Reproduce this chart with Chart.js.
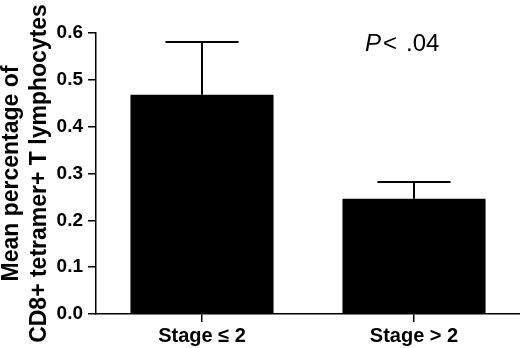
<!DOCTYPE html>
<html>
<head>
<meta charset="utf-8">
<script src="https://cdn.jsdelivr.net/npm/chart.js@4/dist/chart.umd.min.js"></script>
<style>
  html, body { margin: 0; padding: 0; background: #fff; }
  #wrap { width: 520px; height: 348px; }
</style>
</head>
<body>
<div id="wrap"><canvas id="myChart" width="520" height="348"></canvas></div>
<script>
const categories = ["Stage \u2264 2", "Stage > 2"];
const means = [0.468, 0.246];
const upperErrors = [0.581, 0.282];
const yTicks = [0.0, 0.1, 0.2, 0.3, 0.4, 0.5, 0.6];
const yTitle = ["Mean percentage of", "CD8+ tetramer+ T lymphocytes"];
const pText = ["P", "<", ".04"];

const font = "Arial, 'Liberation Sans', sans-serif";

const errorBars = {
  id: "errorBars",
  afterDatasetsDraw(chart) {
    const ctx = chart.ctx;
    const x = chart.scales.x;
    const y = chart.scales.y;
    ctx.save();
    ctx.strokeStyle = "#000";
    ctx.lineWidth = 2;
    upperErrors.forEach((v, i) => {
      const cx = x.getPixelForValue(i);
      const top = y.getPixelForValue(v);
      const base = y.getPixelForValue(means[i]);
      ctx.beginPath();
      ctx.moveTo(cx, base);
      ctx.lineTo(cx, top);
      ctx.moveTo(cx - 36.5, top);
      ctx.lineTo(cx + 36.5, top);
      ctx.stroke();
    });
    // p-value note: italic P, then "< .04"
    ctx.fillStyle = "#000";
    ctx.textBaseline = "middle";
    const px = x.getPixelForValue(1) - 49;
    const py = y.getPixelForValue(0.6) + 11;
    ctx.font = "italic 24px " + font;
    ctx.fillText(pText[0], px, py);
    const pw = ctx.measureText(pText[0]).width;
    ctx.font = "24px " + font;
    ctx.fillText(pText[1], px + pw + 2, py);
    ctx.fillText(pText[2], px + pw + 25, py);
    ctx.restore();
  }
};

const ctx = document.getElementById("myChart").getContext("2d");
new Chart(ctx, {
  type: "bar",
  data: {
    labels: categories,
    datasets: [{
      data: means,
      backgroundColor: "#000",
      borderWidth: 0,
      categoryPercentage: 1,
      barPercentage: 0.675
    }]
  },
  options: {
    responsive: false,
    animation: false,
    layout: { padding: { top: 33, right: 0, left: 0, bottom: 0 } },
    plugins: {
      legend: { display: false },
      tooltip: { enabled: false }
    },
    scales: {
      x: {
        grid: {
          offset: false,
          drawOnChartArea: false,
          color: "#000",
          tickLength: 8,
          lineWidth: 1.5
        },
        border: { color: "#000", width: 1.5 },
        ticks: {
          color: "#000",
          font: { family: font, size: 20, weight: "bold" },
          padding: 2
        },
        afterFit(scale) { scale.height = 34; }
      },
      y: {
        min: 0,
        max: 0.6,
        afterBuildTicks(scale) {
          scale.ticks = yTicks.map(v => ({ value: v }));
        },
        grid: {
          drawOnChartArea: false,
          color: "#000",
          tickLength: 8,
          lineWidth: 1.5
        },
        border: { color: "#000", width: 1.5 },
        ticks: {
          color: "#000",
          padding: 5,
          font: { family: font, size: 19, weight: "bold" },
          callback: v => v.toFixed(1)
        },
        title: {
          display: true,
          text: yTitle,
          color: "#000",
          font: { family: font, size: 23, weight: "bold", lineHeight: 1.2 },
          padding: { top: -2, bottom: 0 }
        },
        afterFit(scale) { scale.width = 96; }
      }
    }
  },
  plugins: [errorBars]
});
</script>
</body>
</html>
